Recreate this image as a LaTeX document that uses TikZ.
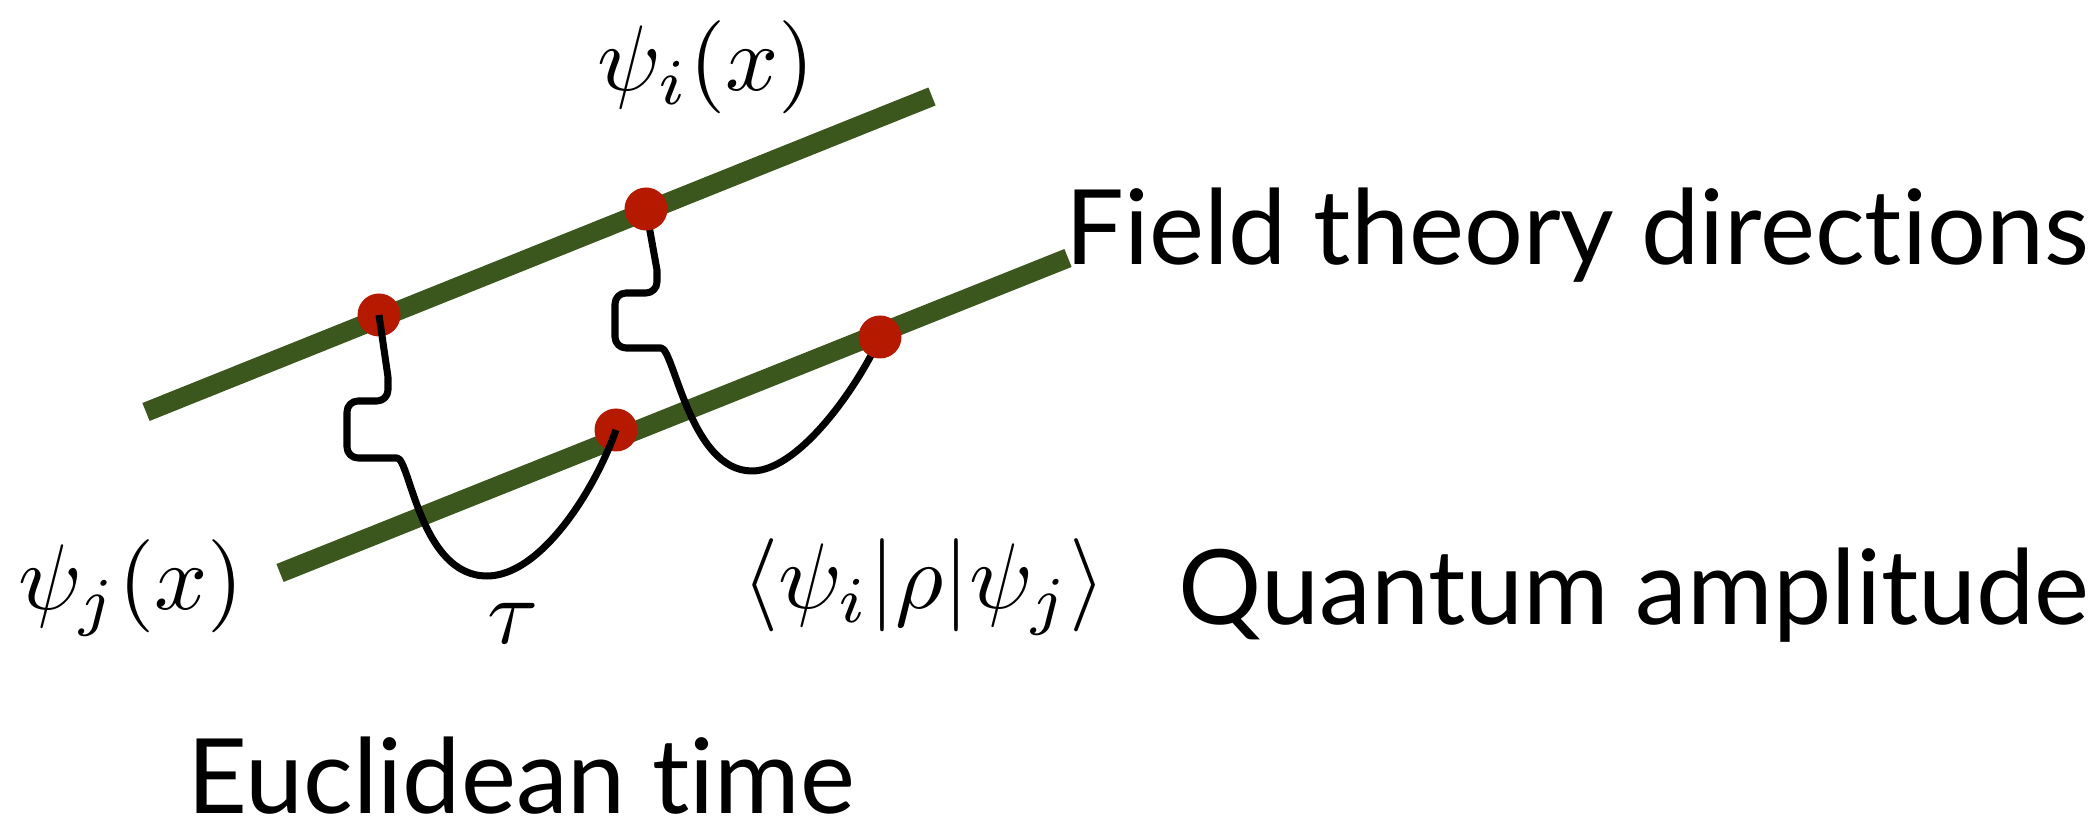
\documentclass[tikz,border=0pt]{standalone}
\usepackage{fontspec}
\setmainfont{Lato}[Ligatures=NoCommon]
\usepackage{tikz}
\usetikzlibrary{backgrounds}
\definecolor{fieldgreen}{RGB}{59,87,29}
\definecolor{dotred}{RGB}{181,26,0}
\newcommand{\bigmath}[1]{\scalebox{2.65}{$#1$}}

\begin{document}
\begin{tikzpicture}[
    field/.style={fieldgreen,line width=5.5pt},
    dot/.style={circle,fill=dotred,minimum size=4.3mm,inner sep=0pt},
    wire/.style={line width=2pt,line join=round},
    lbl/.style={font=\fontsize{29.6}{34}\selectfont,anchor=base west,inner sep=0pt},
    mlbl/.style={font=\fontsize{10}{12}\selectfont,inner sep=0pt}
  ]
  \useasboundingbox (0,0) rectangle (21,-8.21);

  % ends of the two field lines
  \coordinate (u1) at (1.46,-4.12);
  \coordinate (u2) at (9.32,-0.965);
  \coordinate (l1) at (2.80,-5.73);
  \coordinate (l2) at (10.68,-2.58);

  % insertion points
  \node[dot] (ua) at (3.79,-3.15) {};
  \node[dot] (ub) at (6.46,-2.09) {};
  \node[dot] (la) at (6.16,-4.30) {};
  \node[dot] (lb) at (8.80,-3.37) {};

  \begin{scope}[on background layer]
    \draw[field] (u1) -- (u2);
    \draw[field] (l1) -- (l2);
    % right propagator (under the dots)
    \draw[wire] (ub.center) -- (6.57,-2.70)
      [rounded corners=1.1mm] -- (6.57,-2.93) -- (6.15,-2.93)
      -- (6.15,-3.48) -- (6.50,-3.48) [sharp corners]
      .. controls (6.74,-3.48) and (6.90,-4.71) .. (7.52,-4.71)
      .. controls (8.00,-4.71) and (8.60,-3.83) .. (lb.center);
  \end{scope}

  % left propagator
  \draw[wire] (ua.center) -- (3.88,-3.77)
    [rounded corners=1.1mm] -- (3.88,-4.01) -- (3.47,-4.01)
    -- (3.47,-4.58) -- (3.86,-4.58) [sharp corners]
    .. controls (4.10,-4.58) and (4.20,-5.76) .. (4.87,-5.76)
    .. controls (5.40,-5.76) and (5.94,-4.92) .. (la.center);

  % labels
  \node[mlbl] (psii) at (7.06,-0.67) {\bigmath{\psi_i(x)}};
  \node[mlbl] (psij) at (1.31,-5.88) {\bigmath{\psi_j(x)}};
  \node[mlbl] (tau) at (5.13,-6.23) {\bigmath{\tau}};
  \node[mlbl] (amp) at (9.24,-5.87) {\bigmath{\langle\psi_i|\rho|\psi_j\rangle}};

  \node[lbl] (fld) at (10.65,-2.65) {Field theory directions};
  \node[lbl] (qnt) at (11.78,-6.25) {Quantum amplitude};
  \node[lbl] (euc) at (1.87,-8.14) {Euclidean time};
\end{tikzpicture}
\end{document}
